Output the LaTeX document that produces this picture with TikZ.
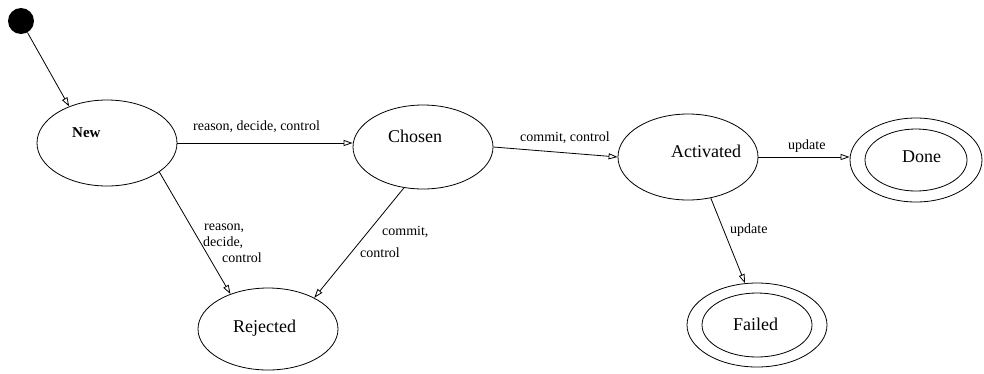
\documentclass[tikz,border=0pt]{standalone}
\usepackage{fontspec}
\setmainfont{Liberation Serif}
\usetikzlibrary{shapes.geometric,arrows.meta}
\begin{document}
\begin{tikzpicture}[x=1pt,y=-1pt,
  state/.style={ellipse, draw, line width=0.8pt, inner sep=0pt, minimum width=140pt, minimum height=86pt},
  inner/.style={ellipse, draw, line width=0.8pt, inner sep=0pt},
  startdot/.style={circle, fill=black, inner sep=0pt, minimum size=26pt},
  txt/.style={anchor=base west, inner sep=0pt, font=\fontsize{18}{20}\selectfont},
  lab/.style={anchor=base west, inner sep=0pt, font=\fontsize{14}{16}\selectfont},
  arr/.style={-{Triangle[open,length=9pt,width=6pt]}, line width=0.8pt}
]
\useasboundingbox (0,0) rectangle (984,373);

% states
\node[startdot] (start) at (21,21) {};
\node[state] (New) at (107,143) {};
\node[state, minimum height=84pt] (Chosen) at (423,147) {};
\node[state] (Activated) at (688,157) {};
\node[state, minimum width=132pt, minimum height=84pt] (Done) at (916,160) {};
\node[inner, minimum width=102pt, minimum height=62pt] (DoneIn) at (Done) {};
\node[state, minimum height=84pt] (Failed) at (757,325) {};
\node[inner, minimum width=110pt, minimum height=64pt] (FailedIn) at (Failed) {};
\node[state, minimum height=82pt] (Rejected) at (268,329) {};

% state texts
\node[txt, font=\fontsize{15}{17}\selectfont\bfseries] (tNew) at (72,137) {New};
\node[txt] (tChosen) at (388,142) {Chosen};
\node[txt] (tActivated) at (671,157) {Activated};
\node[txt] (tDone) at (902,162) {Done};
\node[txt] (tFailed) at (733,330) {Failed};
\node[txt] (tRejected) at (233,332) {Rejected};

% transitions
\draw[arr] (start) -- (New.136);
\draw[arr] (New.east) -- (New.east -| Chosen.west);
\draw[arr] (Chosen.east) -- (Activated.west);
\draw[arr] (Activated.east) -- (Activated.east -| Done.west);
\draw[arr] (Activated.-61) -- (Failed.106);
\draw[arr] (New.-29) -- (Rejected.137);
\draw[arr] (Chosen.-115) -- (Rejected.34);

% transition labels
\node[lab] (lNC) at (193,130) {reason, decide, control};
\node[lab] (lCA) at (520,141) {commit, control};
\node[lab] (lAD) at (788,149) {update};
\node[lab] (lAF) at (730,233) {update};
\node[lab] (lNR1) at (204,230) {reason,};
\node[lab] (lNR2) at (203,246) {decide,};
\node[lab] (lNR3) at (222,262) {control};
\node[lab] (lCR1) at (382,235) {commit,};
\node[lab] (lCR2) at (360,257) {control};
\end{tikzpicture}
\end{document}
